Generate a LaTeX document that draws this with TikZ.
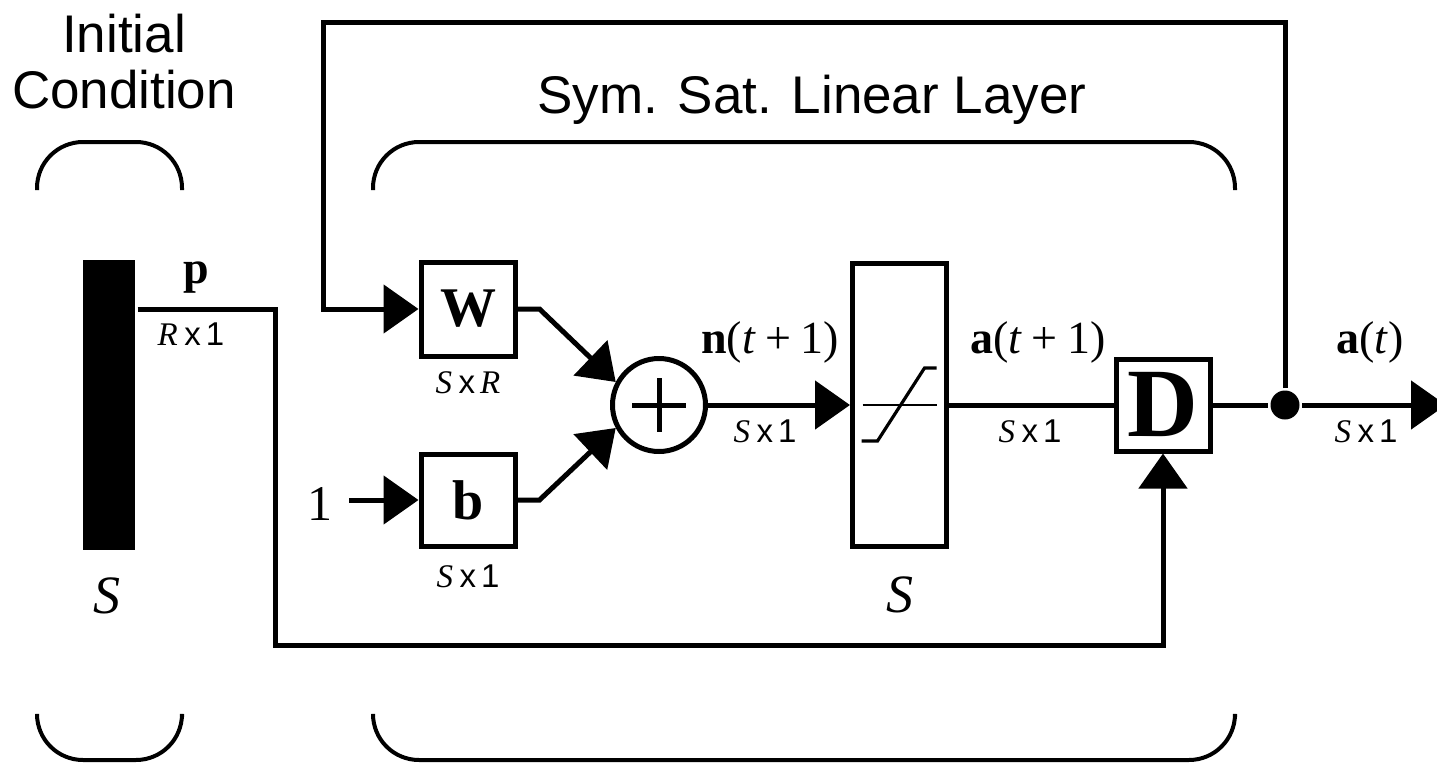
\documentclass[tikz,border=0pt]{standalone}
\usepackage{fontspec}
\setmainfont{Liberation Serif}
\setsansfont{Liberation Sans}
\usetikzlibrary{arrows.meta}
\begin{document}
\begin{tikzpicture}[x=0.5pt,y=-0.5pt, line width=2.5pt,
  blk/.style={draw, line width=2.5pt, minimum width=47pt, minimum height=47pt, inner sep=0pt},
  tip/.style={-{Triangle[length=17.5pt,width=24pt]}},
  brk/.style={line width=2pt, rounded corners=23pt},
  dimlbl/.style={font=\fontsize{16.5}{19}\selectfont, anchor=base, inner sep=0pt},
  vlbl/.style={font=\fontsize{23}{27}\selectfont, anchor=base, inner sep=0pt},
  ttl/.style={font=\sffamily\fontsize{26.5}{30}\selectfont, anchor=base, inner sep=0pt},
  bigS/.style={font=\fontsize{27}{30}\selectfont, anchor=base, inner sep=0pt}]
\useasboundingbox (0,0) rectangle (1437,766);
\newcommand{\dimtxt}[2]{\textit{#1}\hspace{0.2em}\textsf{x}\hspace{0.15em}\textsf{#2}}

% titles
\node[ttl] (t1) at (124,52) {Initial};
\node[ttl] (t2) at (124,108) {Condition};
\node[ttl] (t3) at (812,113) {Sym. Sat. Linear Layer};

% brackets
\draw[brk] (37,190) -- (37,142) -- (182,142) -- (182,190);
\draw[brk] (37,717) -- (37,760) -- (182,760) -- (182,717);
\draw[brk] (373,190) -- (373,142) -- (1235,142) -- (1235,190);
\draw[brk] (373,717) -- (373,760) -- (1235,760) -- (1235,717);

% blocks
\node[fill, minimum width=26pt, minimum height=145pt, inner sep=0pt] (bar) at (109,405) {};
\node[blk, font=\bfseries\fontsize{28}{30}\selectfont] (W) at (468,309) {W};
\node[blk, minimum height=46pt, font=\bfseries\fontsize{28}{30}\selectfont] (b) at (468,500) {b};
\node[circle, draw, minimum size=46.5pt, inner sep=0pt] (sum) at (659,405) {};
\node[blk, minimum height=141.5pt] (sat) at (899.5,405) {};
\node[blk, minimum height=46pt, font=\bfseries\fontsize{49}{50}\selectfont] (D) at (1163,405) {D};
\node[circle, fill, minimum size=14.5pt, inner sep=0pt] (dot) at (1285,405) {};

% plus sign
\draw (sum.center) ++(-27,0) -- ++(54,0);
\draw (sum.center) ++(0,-27) -- ++(0,54);

% satlin symbol
\draw[line width=1pt] (sat.center) ++(-37,0) -- ++(74,0);
\draw[line width=1.6pt] (sat.center) ++(-38,36) -- ++(16,0) -- ++(47,-73) -- ++(12,0);

% coordinates
\coordinate (fb) at (323,22);
\coordinate (c1) at (275,645);
\coordinate (onee) at (349,500);
\coordinate (out) at (1446,405);

% connectors
\draw[tip] (dot) |- (fb) |- (W.west);
\draw[tip] (bar.east |- W) -| (c1) -| (D.south);
\draw[tip] (W.east) -- ++(22,0) -- (sum.152);
\draw[tip] (b.east) -- ++(22,0) -- (sum.208);
\draw[tip] (onee) -- (b.west);
\draw[tip] (sum.east) -- (sat.west);
\draw (sat.east) -- (D.west);
\draw (D.east) -- (dot);
\draw[tip] (dot) -- (out);

% labels
\node[font=\fontsize{25}{27}\selectfont, anchor=base, inner sep=0pt] (one) at (320,520) {1};
\node[vlbl] (lp) at (196,283) {\textbf{p}};
\node[dimlbl] (lr) at (191,345) {\dimtxt{R}{1}};
\node[dimlbl] (lw) at (468,393) {\textit{S}\hspace{0.2em}\textsf{x}\hspace{0.15em}\textit{R}};
\node[dimlbl] (lb) at (468,587) {\dimtxt{S}{1}};
\node[vlbl] (ln) at (770,353) {\textbf{n}(\textit{t}\hspace{0.2em}+\hspace{0.2em}1)};
\node[dimlbl] (lns) at (765,442) {\dimtxt{S}{1}};
\node[vlbl] (la) at (1038,353) {\textbf{a}(\textit{t}\hspace{0.2em}+\hspace{0.2em}1)};
\node[dimlbl] (las) at (1030,442) {\dimtxt{S}{1}};
\node[vlbl] (lo) at (1370,353) {\textbf{a}(\textit{t})};
\node[dimlbl] (los) at (1366,442) {\dimtxt{S}{1}};
\node[bigS] (s1) at (107,613) {\textit{S}};
\node[bigS] (s2) at (900,612) {\textit{S}};
\end{tikzpicture}
\end{document}
